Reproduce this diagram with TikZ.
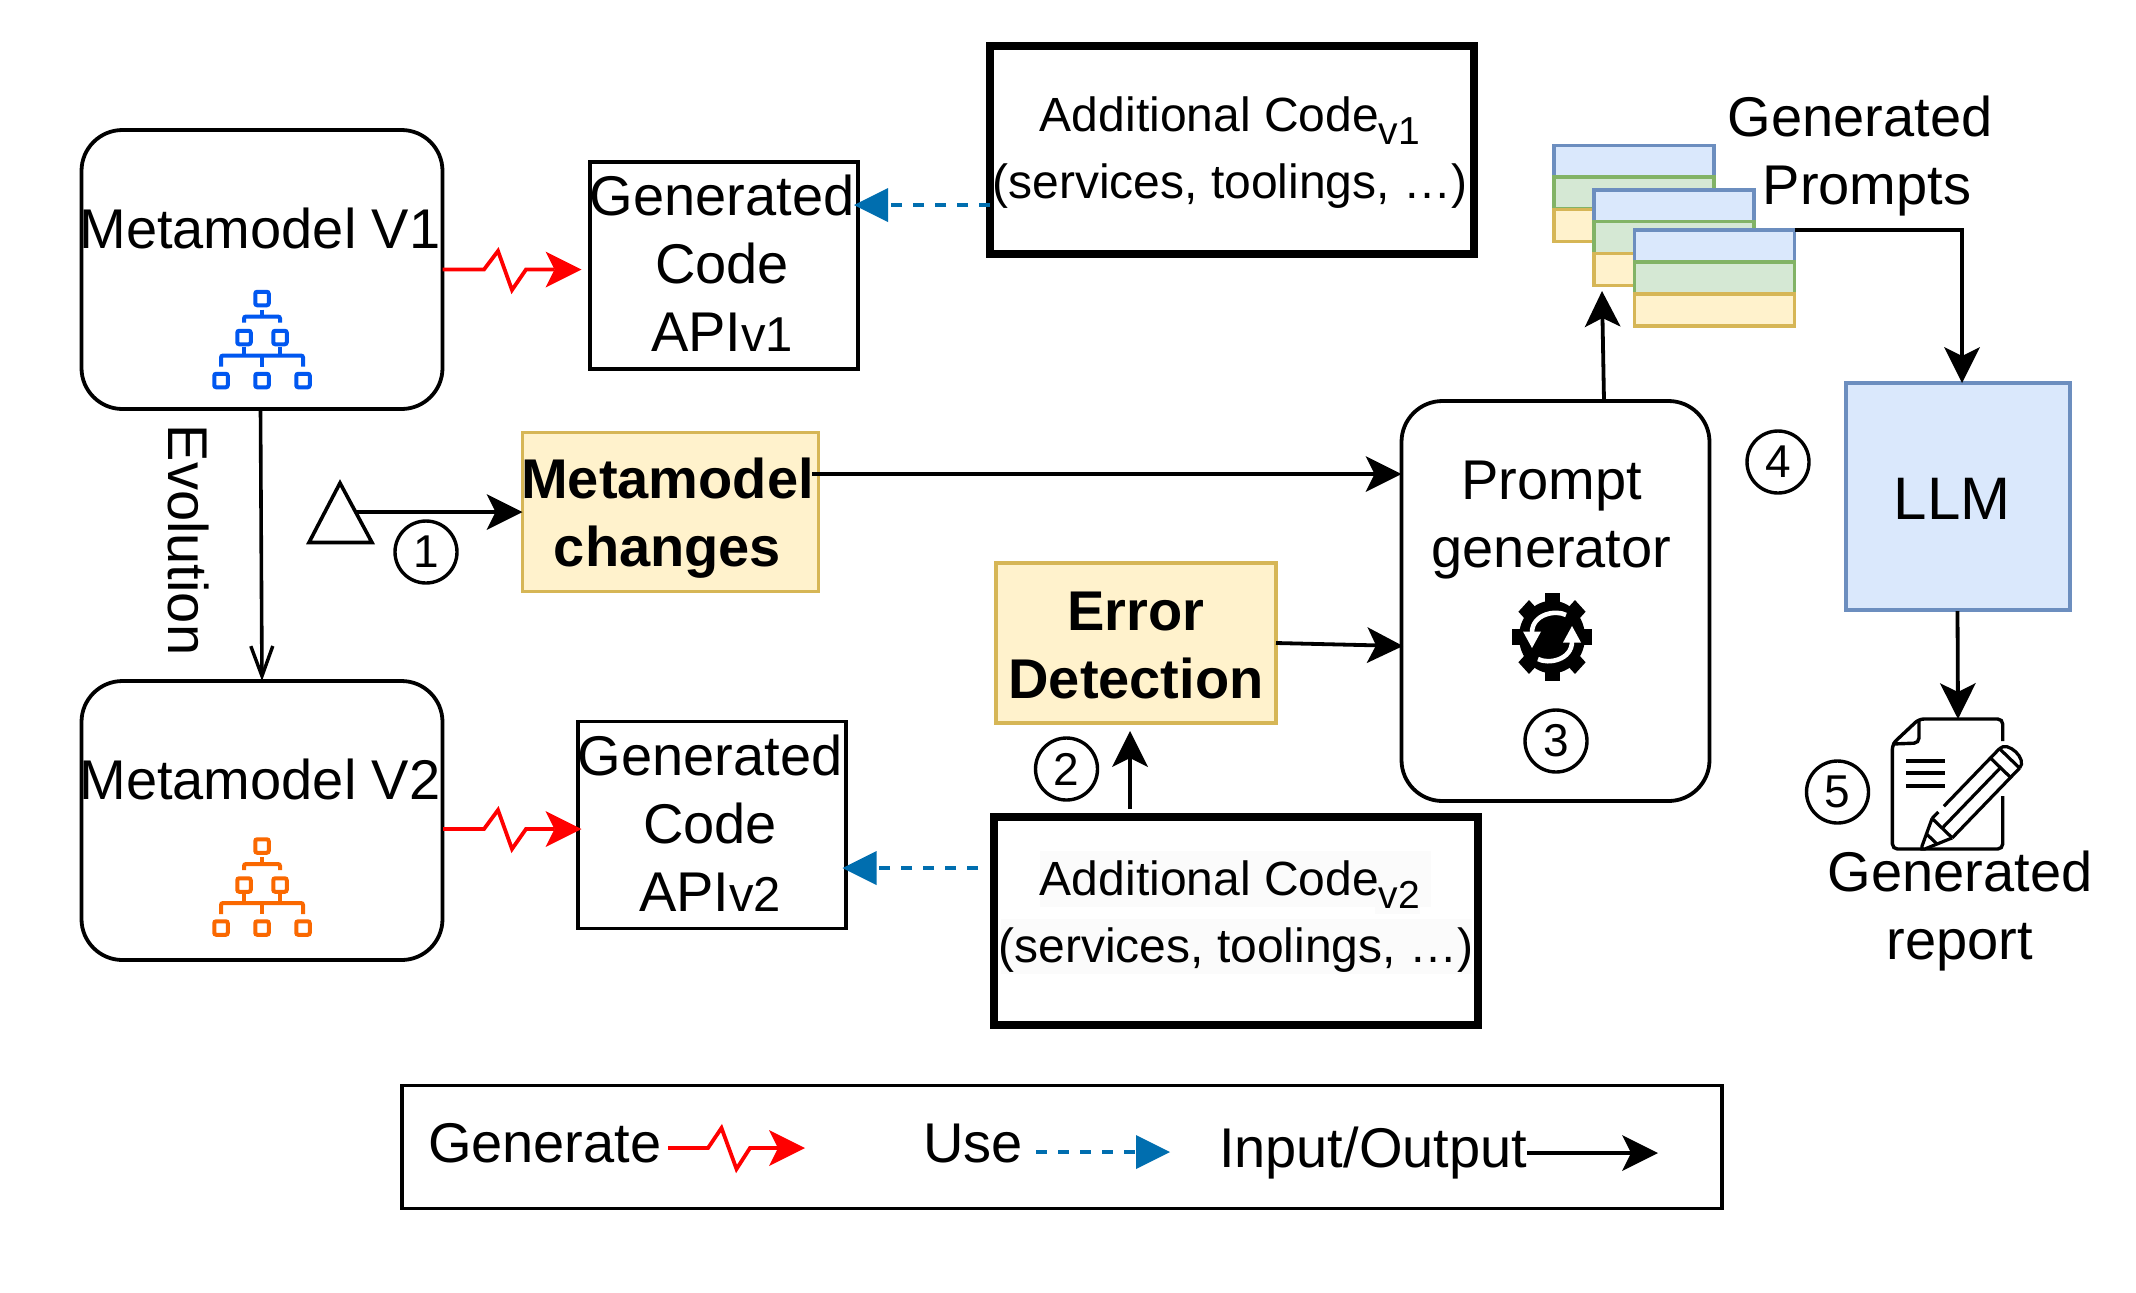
\documentclass[tikz,border=0pt]{standalone}
\usepackage{fontspec}
\setmainfont{Liberation Sans}
\usetikzlibrary{arrows.meta}
\definecolor{bluefill}{HTML}{DAE8FC}
\definecolor{bluedraw}{HTML}{6C8EBF}
\definecolor{greenfill}{HTML}{D5E8D4}
\definecolor{greendraw}{HTML}{82B366}
\definecolor{yelfill}{HTML}{FFF2CC}
\definecolor{yeldraw}{HTML}{D6B656}
\definecolor{usecol}{HTML}{006EAF}
\definecolor{treeblue}{HTML}{0057F0}
\definecolor{treeorange}{HTML}{FA6800}
\definecolor{hilite}{HTML}{FBFBFB}
% first-line baseline is raised #2 above the node centre, shifted by half of #1
\newcommand\txtblock[3][0pt]{\raisebox{#2}[0pt][0pt]{\makebox[0pt][c]{\hspace*{#1}\begin{tabular}[t]{@{}c@{}}#3\end{tabular}}}}
\newcommand\subver[1]{\raisebox{-6.5pt}{\fontsize{19.5}{19.5}\selectfont #1}}
\newcommand\apiver[1]{{\fontsize{24.5}{24.5}\selectfont #1}}
\newcommand\treeicon[2]{%
  \begin{scope}[shift={(0,#2)},draw=#1,line width=2pt,rounded corners=1pt]
    \foreach \xx/\yy in {262/299,244/338,280/338,221/381,262/381,303/381}
      \draw ({\xx-6.75},{\yy-6.75}) rectangle ++(13.5,13.5);
    \draw (262,310)--(262,317);
    \draw (244,323)--(244,317)--(280,317)--(280,323);
    \draw (244,347)--(244,356);
    \draw (280,347)--(280,356);
    \draw (221,367)--(221,356)--(303,356)--(303,367);
    \draw (262,356)--(262,367);
  \end{scope}}
\tikzset{
  basebox/.style={draw=black,line width=1.9pt,rectangle,inner sep=0pt,outer sep=0pt,align=center},
  bigtext/.style={font=\fontsize{28}{34}\selectfont},
  boldtext/.style={font=\bfseries\fontsize{28}{34}\selectfont},
  midtext/.style={font=\fontsize{24}{33.5}\selectfont},
  metabox/.style={basebox,rounded corners=20.5pt,bigtext,minimum width=180.5pt,minimum height=139.5pt},
  genbox/.style={basebox,bigtext,minimum width=134pt,minimum height=103.5pt},
  addbox/.style={basebox,line width=4pt,midtext,minimum width=242pt,minimum height=104pt},
  yelbox/.style={basebox,draw=yeldraw,fill=yelfill,boldtext},
  numc/.style={circle,draw=black,line width=1.7pt,inner sep=0pt,outer sep=0pt,minimum size=31pt,font=\fontsize{23}{23}\selectfont},
  labeltext/.style={inner sep=0pt,outer sep=0pt,bigtext},
  slab/.style={rectangle,line width=1.8pt,inner sep=0pt,outer sep=0pt,minimum width=80pt,minimum height=16pt},
  bslab/.style={slab,draw=bluedraw,fill=bluefill},
  gslab/.style={slab,draw=greendraw,fill=greenfill},
  yslab/.style={slab,draw=yeldraw,fill=yelfill},
  io/.style={draw=black,line width=1.9pt,-{Stealth[length=18pt,width=18pt,inset=4.5pt,line width=0pt]}},
  iothin/.style={draw=black,line width=1.8pt,-{Straight Barb[length=15pt,width=11pt,line width=1.7pt]}},
  gen/.style={draw=red,line width=1.9pt,-{Stealth[length=18pt,width=18pt,inset=4.5pt,line width=0pt]}},
  use/.style={draw=usecol,line width=1.9pt,dash pattern=on 5.5pt off 5.5pt,-{Triangle[length=17pt,width=17pt,line width=0pt]}},
}
\begin{document}
\begin{tikzpicture}[x=0.5pt,y=-0.5pt]
\useasboundingbox[fill=white] (0,0) rectangle (2136,1292);

% metamodels
\node[metabox] (m1) at (262,269.5) {\txtblock[-2pt]{10.75pt}{Metamodel V1}};
\node[metabox] (m2) at (262,820.5) {\txtblock[-2pt]{10.5pt}{Metamodel V2}};
\treeicon{treeblue}{-0.5}
\treeicon{treeorange}{547}

% generated code
\node[genbox] (g1) at (724,265.5) {\txtblock[-2pt]{25.25pt}{Generated\\Code\\API\apiver{v1}}};
\node[genbox] (g2) at (712,825) {\txtblock[-2pt]{25pt}{Generated\\Code\\API\apiver{v2}}};

% additional code
\node[addbox] (a1) at (1232,149.5) {\txtblock[-2pt]{9.25pt}{Additional Code\subver{v1}\\(services, toolings, …)}};
\fill[hilite] (1040,851) rectangle (1431,907);
\fill[hilite] (1375,851) rectangle (1420,914);
\fill[hilite] (1001,919) rectangle (1472,974);
\node[addbox] (a2) at (1236,921) {\txtblock{13pt}{Additional Code\subver{v2}\hspace*{6pt}\\(services, toolings, …)}};

% yellow boxes
\node[yelbox,minimum width=148pt,minimum height=79.5pt] (mc) at (670.5,512) {\txtblock[-3pt]{6.75pt}{Metamodel\\changes}};
\node[yelbox,minimum width=140pt,minimum height=80pt] (ed) at (1136,643) {\txtblock{6.25pt}{Error\\Detection}};

% prompt generator
\node[basebox,bigtext,rounded corners=20.5pt,minimum width=154pt,minimum height=200pt] (pg) at (1555.5,601) {\txtblock[-4pt]{51pt}{Prompt\\generator}};

% gear icon
\begin{scope}[shift={(1552,637)},yscale=1.1]
  \fill[black] (0,0) circle[radius=33];
  \foreach \aa in {0,45,...,315}
    \fill[black,rotate=\aa] (-7.5,-40) rectangle (7.5,0);
  \foreach \aa in {0,180}{
    \begin{scope}[rotate=\aa]
      \draw[white,line width=2.3pt] (14,-20) .. controls (4,-25) and (-20,-21) .. (-20,-4);
      \fill[white] (-29,-5) -- (-11,-5) -- (-20,10) -- cycle;
    \end{scope}}
\end{scope}

% prompts
\node[bslab] (s1a) at (1634,161.5) {};
\node[gslab] (s1b) at (1634,193) {};
\node[yslab] (s1c) at (1634,225.5) {};
\node[bslab] (s2a) at (1674,206) {};
\node[gslab] (s2b) at (1674,237.5) {};
\node[yslab] (s2c) at (1674,269.5) {};
\node[bslab] (s3a) at (1714.5,246) {};
\node[gslab] (s3b) at (1714.5,278) {};
\node[yslab] (s3c) at (1714.5,310) {};
\node[labeltext,anchor=center] (gp) at (1860,169) {\txtblock{16.5pt}{Generated\\\hspace*{7pt}Prompts}};

% LLM
\node[basebox,draw=bluedraw,fill=bluefill,minimum width=112pt,minimum height=113.5pt,font=\fontsize{30}{34}\selectfont] (llm) at (1958,496.5) {\txtblock[-6pt]{-11.5pt}{LLM}};

% document icon
\coordinate (docin) at (1958,719);
\begin{scope}[line width=1.7pt,rounded corners=2.5pt]
  \draw (2002.7,741)--(2002.7,719)--(1919,719)--(1892.4,744)--(1892.4,849)--(2002.7,849)--(2002.7,796);
  \draw (1919,719)--(1919,743)--(1892.4,744);
\end{scope}
\begin{scope}[line width=1.7pt]
  \draw (1906,761)--(1945,761);
  \draw (1906,773)--(1945,773);
  \draw (1906,786)--(1945,786);
\end{scope}
\begin{scope}[shift={(1922,849)},rotate=46,line width=1.6pt]
  \fill[white] (0,0)--(29,-14)--(126,-14) .. controls (138,-14) and (138,14) .. (126,14)--(29,14)--cycle;
  \draw (29,-14)--(2,-2)--(0,0)--(2,2)--(29,14);
  \draw (29,-14)--(29,14);
  \draw (14,-7)--(14,7);
  \draw (29,-14)--(38,-14);
  \draw (46,-14)--(126,-14);
  \draw (29,14)--(126,14);
  \draw (29,0)--(113,0);
  \draw (113,-14)--(113,14);
  \draw (126,-14)--(126,14);
  \draw (126,-14) .. controls (138,-14) and (138,14) .. (126,14);
\end{scope}
\node[labeltext] (gr) at (1960,891) {\txtblock{0pt}{Generated\\report}};

% Evolution
\node[labeltext,rotate=-90,anchor=base] (ev) at (168,540) {Evolution};

% triangle
\draw[line width=1.8pt,line join=miter] (340,483)--(372,542.5)--(309,542.5)--cycle;
\coordinate (tri) at (356,512);

% numbered circles
\node[numc] (c1) at (426,552) {1};
\node[numc] (c2) at (1066.5,769) {2};
\node[numc] (c3) at (1556,741) {3};
\node[numc] (c4) at (1778,462) {4};
\node[numc] (c5) at (1837.5,792) {5};

% free ends
\coordinate (zs1) at (m1.east);
\coordinate (zt1) at (581.5,269.5);
\coordinate (zs2) at (m2.east);
\coordinate (zt2) at (581.5,829);
\coordinate (zs2b) at (443,829);

% connectors
\draw[gen] (zs1) -- (484,269.5) -- (498,251) -- (512,290) -- (526,269.5) -- (zt1);
\draw[gen] (zs2b) -- (484,829) -- (498,810) -- (512,849) -- (526,829) -- (zt2);
\coordinate (ua1e) at (854,205);
\coordinate (ua1s) at (990,205);
\draw[use] (ua1s) -- (ua1e);
\coordinate (ua2e) at (842.5,868);
\coordinate (ua2s) at (978,868);
\draw[use] (ua2s) -- (ua2e);
\draw[iothin] ([xshift=-0.75pt]m1.south) -- (m2.north);
\draw[io] (tri) -- (tri -| mc.west);
\coordinate (mcs) at (812,474);
\draw[io] (mcs) -- (mcs -| pg.west);
\coordinate (eds) at (ed.east);
\coordinate (edt) at (1403,646);
\draw[io] (eds) -- (edt);
\coordinate (a2s) at (1130,809);
\coordinate (a2t) at (1130,731);
\draw[io] (a2s) -- (a2t);
\coordinate (pgs) at (1604,401);
\coordinate (pgt) at (1602,291);
\draw[io] (pgs) -- (pgt);
\draw[io] (s3a.north east) -| ([xshift=2pt]llm.north);
\coordinate (llms) at (1957.5,611);
\draw[io] (llms) -- (docin);

% legend
\node[basebox,minimum width=660pt,minimum height=61.5pt] (leg) at (1062,1147) {};
\node[labeltext,anchor=base west] (l1) at (428,1162) {Generate};
\node[labeltext,anchor=base west] (l2) at (923,1162) {Use};
\node[labeltext,anchor=base west] (l3) at (1219,1167) {Input/Output};
\coordinate (l1a) at (668,1148);
\coordinate (l1b) at (805,1148);
\draw[gen] (l1a) -- (708,1148) -- (721.5,1128) -- (736.5,1169) -- (750,1148) -- (l1b);
\coordinate (l2a) at (1036,1152);
\coordinate (l2b) at (1170,1152);
\draw[use] (l2a) -- (l2b);
\coordinate (l3a) at (1527,1153);
\coordinate (l3b) at (1658,1153);
\draw[io] (l3a) -- (l3b);
\end{tikzpicture}
\end{document}
